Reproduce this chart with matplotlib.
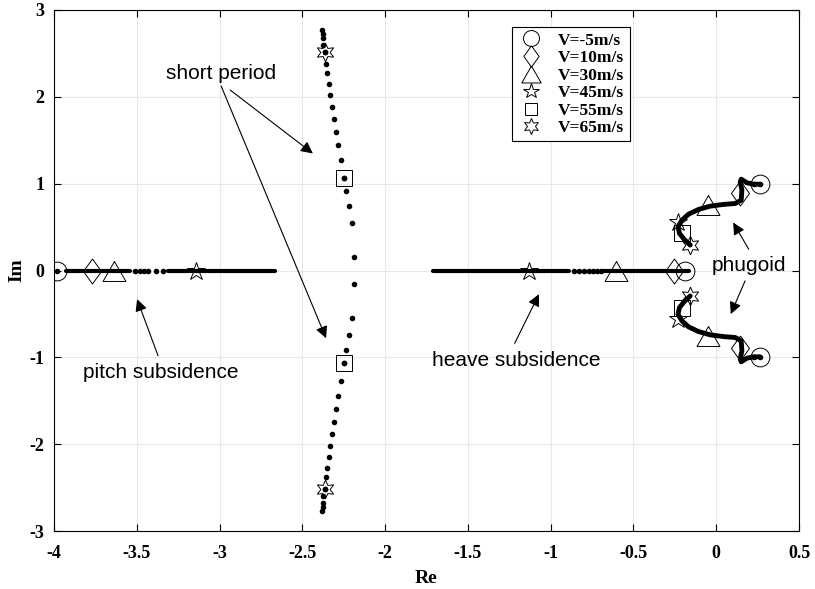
import numpy as np
import matplotlib
matplotlib.use("Agg")
from matplotlib import pyplot as plt

# speeds and marker styles of the legend
speed_labels = ["V=-5m/s", "V=10m/s", "V=30m/s", "V=45m/s", "V=55m/s", "V=65m/s"]
diamond = [(0, 1), (0.72, 0), (0, -1), (-0.72, 0), (0, 1)]
triangle = [(0, 0.87), (1, -0.87), (-1, -0.87), (0, 0.87)]
speed_markers = ["o", diamond, triangle, "*", "s", (6, 1, 0)]
speed_msize = [13.5, 18, 16.5, 13.5, 11, 13.5]

# roots at the marked speeds (nan = not on that branch)
pitch_re = [-3.98, -3.77, -3.64, -3.14, np.nan, np.nan]
heave_re = [-0.19, -0.258, -0.604, -1.128, np.nan, np.nan]
short_re = [np.nan, np.nan, np.nan, np.nan, -2.25, -2.366]
short_im = [np.nan, np.nan, np.nan, np.nan, 1.065, 2.516]
phug_re = [0.266, 0.145, -0.05, -0.231, -0.204, -0.157]
phug_im = [0.994, 0.89, 0.76, 0.56, 0.427, 0.293]

# real axis loci: dense stretches (from, to) and single dots
pitch_dense = [(-3.93, -3.54), (-3.31, -2.665)]
pitch_dots = [-3.98, -3.511, -3.48, -3.456, -3.43, -3.384, -3.343]
heave_dense = [(-1.708, -0.892), (-0.681, -0.167)]
heave_dots = [-0.858, -0.826, -0.797, -0.771, -0.745, -0.720, -0.697]

# short period upper branch (lower branch is the conjugate)
sp_re = [-2.381, -2.377, -2.373, -2.373, -2.366, -2.356, -2.349, -2.341, -2.330,
         -2.320, -2.309, -2.296, -2.282, -2.267, -2.250, -2.235, -2.218, -2.203, -2.188]
sp_im = [2.772, 2.720, 2.679, 2.598, 2.516, 2.382, 2.272, 2.150, 2.016,
         1.878, 1.744, 1.593, 1.447, 1.276, 1.065, 0.919, 0.748, 0.545, 0.159]

# phugoid upper branch
ph_re = [0.262, 0.226, 0.185, 0.151, 0.145, 0.155, 0.151, 0.115, 0.044, -0.036,
         -0.107, -0.167, -0.207, -0.231, -0.222, -0.193, -0.157]
ph_im = [0.994, 0.994, 1.010, 1.052, 1.021, 0.925, 0.810, 0.772, 0.761, 0.741,
         0.703, 0.649, 0.580, 0.504, 0.427, 0.358, 0.293]

fig = plt.figure(figsize=(8.15, 5.89), dpi=100)
ax = fig.add_axes([54 / 815, 58 / 589, 745 / 815, 521 / 589])

dot = dict(ls="none", marker="o", ms=3, color="k", mec="k")

for a, b in pitch_dense + heave_dense:
    ax.plot([a, b], [0, 0], color="k", lw=3, solid_capstyle="round")
ax.plot(pitch_dots, np.zeros(len(pitch_dots)), **dot)
ax.plot(heave_dots, np.zeros(len(heave_dots)), **dot)

sp_re = np.array(sp_re)
sp_im = np.array(sp_im)
ax.plot(sp_re, sp_im, **dot)
ax.plot(sp_re, -sp_im, **dot)

ph_re = np.array(ph_re)
ph_im = np.array(ph_im)
for s in (1, -1):
    ax.plot(ph_re, s * ph_im, color="k", lw=3.5, solid_capstyle="round",
            solid_joinstyle="round")
    ax.plot(ph_re[:2], s * ph_im[:2], **dot)

for i in range(len(speed_labels)):
    xs = [pitch_re[i], heave_re[i], short_re[i], short_re[i], phug_re[i], phug_re[i]]
    ys = [0, 0, short_im[i], -short_im[i], phug_im[i], -phug_im[i]]
    ax.plot(xs, ys, ls="none", marker=speed_markers[i], ms=speed_msize[i],
            mfc="none", mec="k", mew=0.7, label=speed_labels[i])
    ax.plot([short_re[i], short_re[i]], [short_im[i], -short_im[i]], **dot)

ax.set_xlim(-4, 0.5)
ax.set_ylim(-3, 3)
ax.set_xticks(np.arange(-4, 0.51, 0.5))
ax.set_xticklabels(["-4", "-3.5", "-3", "-2.5", "-2", "-1.5", "-1", "-0.5", "0", "0.5"])
ax.set_yticks([-3, -2, -1, 0, 1, 2, 3])
ax.set_yticklabels(["-3", "-2", "-1", "0", "1", "2", "3"])
ax.grid(True, color="#e8e8e8", lw=0.8)
ax.set_axisbelow(True)
ax.tick_params(direction="in", top=True, right=True, length=5, width=0.8,
               labelsize=13)
ax.tick_params(axis="x", pad=10)
ax.tick_params(axis="y", pad=7)
for lab in ax.get_xticklabels() + ax.get_yticklabels():
    lab.set_fontfamily("Liberation Serif")
    lab.set_fontweight("bold")
for sp in ax.spines.values():
    sp.set_linewidth(0.8)

ax.set_xlabel("Re", fontsize=14, fontweight="bold", family="Liberation Serif", labelpad=6)
ax.set_ylabel("Im", fontsize=14, fontweight="bold", family="Liberation Serif", labelpad=3)

leg = ax.legend(loc="upper left", bbox_to_anchor=(0.615, 0.967), borderaxespad=0,
                fancybox=False, edgecolor="k", framealpha=1, borderpad=0.3,
                labelspacing=0.08, handlelength=1.6, handletextpad=0.75,
                markerscale=0.85,
                prop=dict(family="Liberation Serif", weight="bold", size=12.5))
leg.get_frame().set_linewidth(0.8)

arr = dict(arrowstyle="-|>", color="k", lw=0.8, mutation_scale=18)
tfont = dict(family="Liberation Sans", fontsize=15)
ax.annotate("", xy=(-2.423, 1.328), xytext=(-2.949, 2.098), arrowprops=arr)
ax.annotate("", xy=(-2.35, -0.81), xytext=(-2.997, 2.155), arrowprops=arr)
ax.text(-2.991, 2.27, "short period", ha="center", va="center", **tfont)
ax.annotate("", xy=(-3.504, -0.30), xytext=(-3.366, -1.01), arrowprops=arr)
ax.text(-3.353, -1.178, "pitch subsidence", ha="center", va="center", **tfont)
ax.annotate("", xy=(-1.063, -0.244), xytext=(-1.225, -0.868), arrowprops=arr)
ax.text(-1.209, -1.04, "heave subsidence", ha="center", va="center", **tfont)
ax.annotate("", xy=(0.094, 0.58), xytext=(0.205, 0.216), arrowprops=arr)
ax.annotate("", xy=(0.081, -0.531), xytext=(0.181, -0.09), arrowprops=arr)
ax.text(0.199, 0.052, "phugoid", ha="center", va="center", **tfont)

fig.savefig("out.png", dpi=100)
